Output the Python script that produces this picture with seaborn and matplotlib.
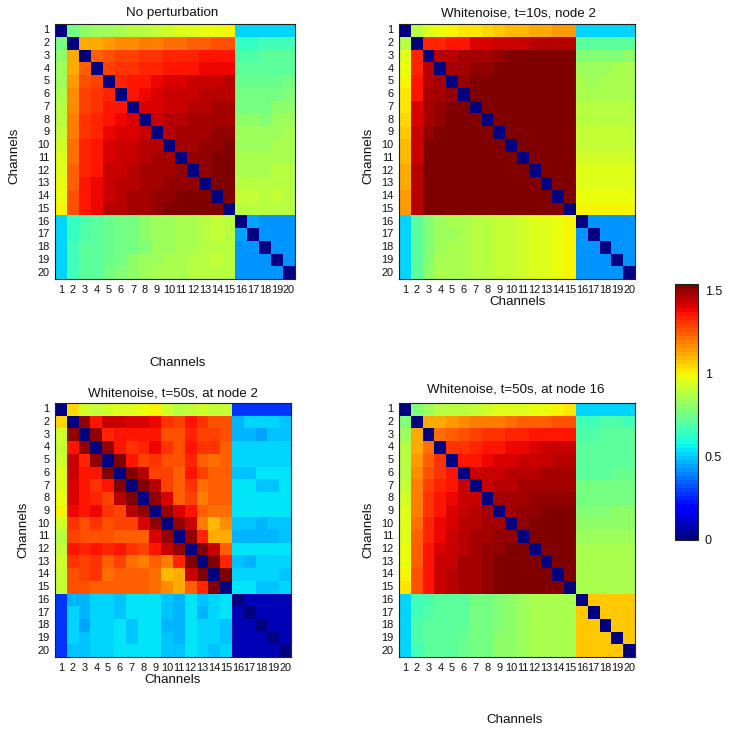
import numpy as np
import matplotlib
matplotlib.use("Agg")
import matplotlib.pyplot as plt
import seaborn as sns

sns.set_theme(style="white")
plt.rcParams['font.family'] = ['Liberation Sans', 'DejaVu Sans']

channels = [str(i) for i in range(1, 21)]

no_perturbation = [
 [.76,.80,.82,.84,.86,.88,.89,.91,.93,.95,.96,.97,.98,.99,.51,.51,.51,.51,.51],
 [1.12,1.13,1.15,1.16,1.17,1.19,1.20,1.21,1.22,1.23,1.24,1.26,1.27,.64,.64,.65,.66,.66],
 [1.25,1.26,1.28,1.29,1.31,1.32,1.33,1.34,1.34,1.35,1.36,1.36,.68,.68,.70,.71,.71],
 [1.29,1.31,1.32,1.33,1.34,1.35,1.36,1.37,1.38,1.38,1.38,.70,.70,.70,.71,.71],
 [1.34,1.36,1.37,1.39,1.40,1.41,1.42,1.43,1.44,1.45,.74,.74,.74,.74,.75],
 [1.37,1.39,1.40,1.42,1.43,1.44,1.45,1.46,1.46,.75,.75,.75,.76,.77],
 [1.40,1.41,1.43,1.44,1.45,1.46,1.47,1.47,.76,.76,.76,.80,.80],
 [1.44,1.45,1.46,1.47,1.48,1.48,1.49,.80,.80,.78,.82,.82],
 [1.46,1.47,1.48,1.49,1.50,1.51,.82,.82,.82,.84,.85],
 [1.48,1.49,1.50,1.51,1.52,.83,.83,.83,.85,.86],
 [1.50,1.51,1.52,1.53,.85,.85,.85,.86,.86],
 [1.51,1.52,1.53,.86,.86,.86,.87,.87],
 [1.52,1.53,.87,.87,.88,.88,.88],
 [1.53,.90,.90,.88,.90,.88],
 [.89,.88,.89,.89,.89],
 [.45,.41,.43,.43],
 [.43,.43,.43],
 [.43,.43],
 [.43],
]

noise_t10_node2 = [
 [.87,.95,.98,1.00,1.02,1.03,1.05,1.07,1.09,1.10,1.12,1.13,1.14,1.15,.51,.51,.51,.51,.51],
 [1.33,1.34,1.35,1.37,1.40,1.41,1.42,1.43,1.44,1.45,1.46,1.46,1.46,.70,.70,.70,.70,.72],
 [1.46,1.46,1.47,1.47,1.49,1.51,1.53,1.53,1.53,1.53,1.53,1.53,.77,.77,.78,.78,.80],
 [1.49,1.49,1.50,1.51,1.53,1.53,1.53,1.53,1.53,1.53,1.53,.84,.82,.84,.85,.85],
 [1.50,1.52,1.53,1.53,1.53,1.53,1.53,1.53,1.53,1.53,.85,.84,.85,.85,.85],
 [1.53,1.53,1.53,1.53,1.53,1.53,1.53,1.53,1.53,.86,.85,.86,.86,.86],
 [1.53,1.53,1.53,1.53,1.53,1.53,1.53,1.53,.88,.88,.88,.88,.88],
 [1.53,1.53,1.53,1.53,1.53,1.53,1.53,.89,.89,.89,.89,.89],
 [1.53,1.53,1.53,1.53,1.53,1.53,.90,.90,.90,.90,.90],
 [1.53,1.53,1.53,1.53,1.53,.91,.91,.91,.91,.91],
 [1.53,1.53,1.53,1.53,.92,.92,.92,.92,.92],
 [1.53,1.53,1.53,.94,.94,.94,.94,.94],
 [1.53,1.53,.96,.96,.96,.96,.96],
 [1.53,.98,.98,.98,.98,.98],
 [1.00,1.00,1.00,1.00,1.00],
 [.43,.43,.43,.43],
 [.43,.43,.43],
 [.43,.43],
 [.43],
]

noise_t50_node2 = [
 [1.05,.92,.91,.93,.95,.96,.98,1.00,.93,.87,.90,.92,.90,.90,.27,.27,.27,.27,.27],
 [1.50,1.37,1.42,1.44,1.41,1.41,1.39,1.31,1.29,1.36,1.31,1.27,1.27,.48,.51,.51,.51,.50],
 [1.50,1.34,1.35,1.35,1.35,1.37,1.26,1.27,1.33,1.29,1.28,1.27,.48,.48,.44,.49,.49],
 [1.50,1.37,1.31,1.34,1.38,1.30,1.27,1.35,1.30,1.30,1.24,.51,.51,.51,.51,.51],
 [1.52,1.37,1.29,1.31,1.26,1.27,1.33,1.25,1.22,1.24,.51,.51,.51,.51,.51],
 [1.53,1.46,1.29,1.29,1.23,1.36,1.28,1.24,1.24,.50,.50,.54,.54,.53],
 [1.52,1.46,1.28,1.25,1.32,1.22,1.24,1.25,.53,.53,.50,.50,.53],
 [1.51,1.41,1.24,1.28,1.19,1.24,1.25,.54,.54,.53,.53,.54],
 [1.51,1.40,1.35,1.23,1.22,1.22,.54,.54,.54,.54,.54],
 [1.50,1.43,1.20,1.10,1.17,.50,.49,.46,.49,.50],
 [1.50,1.33,1.13,1.11,.47,.47,.47,.47,.49],
 [1.52,1.44,1.24,.54,.54,.54,.54,.54],
 [1.52,1.34,.50,.47,.51,.51,.51],
 [1.52,.51,.51,.52,.52,.49],
 [.53,.53,.50,.50,.51],
 [.08,.08,.08,.08],
 [.08,.08,.08],
 [.08,.08],
 [.08],
]

noise_t50_node16 = [
 [.78,.84,.87,.87,.89,.90,.92,.94,.96,.96,.97,.98,1.00,1.03,.52,.52,.52,.52,.52],
 [1.12,1.13,1.14,1.16,1.18,1.19,1.20,1.22,1.23,1.25,1.25,1.26,1.27,.67,.67,.69,.69,.67],
 [1.22,1.24,1.26,1.28,1.30,1.32,1.33,1.34,1.35,1.36,1.37,1.37,.68,.69,.70,.70,.70],
 [1.30,1.32,1.34,1.36,1.37,1.38,1.39,1.40,1.42,1.42,1.43,.70,.70,.70,.71,.71],
 [1.35,1.37,1.39,1.40,1.41,1.42,1.43,1.44,1.45,1.45,.71,.71,.72,.71,.71],
 [1.43,1.43,1.44,1.45,1.45,1.46,1.47,1.47,1.47,.71,.71,.71,.73,.73],
 [1.44,1.45,1.46,1.47,1.48,1.48,1.49,1.49,.75,.75,.75,.75,.75],
 [1.47,1.48,1.49,1.50,1.50,1.51,1.51,.76,.76,.76,.76,.76],
 [1.49,1.50,1.51,1.52,1.52,1.53,.78,.78,.78,.80,.80],
 [1.51,1.52,1.53,1.53,1.53,.80,.80,.80,.81,.81],
 [1.52,1.53,1.53,1.53,.84,.84,.84,.84,.84],
 [1.53,1.53,1.53,.85,.85,.85,.85,.85],
 [1.52,1.52,.86,.86,.86,.86,.86],
 [1.52,.86,.86,.86,.86,.86],
 [.86,.86,.86,.86,.86],
 [1.06,1.06,1.06,1.06],
 [1.06,1.06,1.06],
 [1.06,1.06],
 [1.06],
]

panel_titles = ["No perturbation", "Whitenoise, t=10s, node 2",
                "Whitenoise, t=50s, at node 2", "Whitenoise, t=50s, at node 16"]
panel_data = [no_perturbation, noise_t10_node2, noise_t50_node2, noise_t50_node16]
cbar_ticks = [0, 0.5, 1, 1.5]
VMAX = 1.54

W, H = 729, 731
FS = 9.6
TICK_FS = 7.9
fig = plt.figure(figsize=(W / 100, H / 100), dpi=100)


def px_axes(x0, y0, x1, y1):
    return fig.add_axes([x0 / W, 1 - y1 / H, (x1 - x0) / W, (y1 - y0) / H])


def px_text(x, y, s, **kw):
    fig.text(x / W, 1 - y / H, s, ha='center', va='center', fontsize=FS,
             color='#111111', **kw)


def full_matrix(upper):
    m = np.zeros((20, 20))
    for i, row in enumerate(upper):
        m[i, i + 1:] = row
        m[i + 1:, i] = row
    return m


boxes = [(55, 24, 295, 279), (399, 24, 635, 279), (55, 403, 291, 657), (399, 403, 635, 657)]
title_xy = [(172, 13), (518, 14), (173, 393), (516, 390)]
xlabel_xy = [(178, 363), (518, 302), (173, 680), (515, 720)]
ylabel_xy = [(14, 156), (368, 156), (23, 530), (368, 530)]

cax = px_axes(675, 284, 698, 540)
cmap = plt.get_cmap('jet', 64)

cb = None
for k in range(4):
    ax = px_axes(*boxes[k])
    sns.heatmap(full_matrix(panel_data[k]), ax=ax, cmap=cmap, vmin=0, vmax=VMAX, square=False,
                xticklabels=channels, yticklabels=channels,
                cbar=(k == 3), cbar_ax=cax if k == 3 else None)
    for s in ax.spines.values():
        s.set_visible(True)
        s.set_color('#222222')
        s.set_linewidth(0.8)
    ax.tick_params(axis='both', which='both', direction='in', length=2.5, width=0.8,
                   color='#222222', top=True, right=True, bottom=True, left=True,
                   labelsize=TICK_FS, labelcolor='#111111', pad=4)
    ax.tick_params(axis='y', labelrotation=0)
    ax.tick_params(axis='x', labelrotation=0)
    px_text(*title_xy[k], panel_titles[k])
    px_text(*xlabel_xy[k], "Channels")
    px_text(*ylabel_xy[k], "Channels", rotation=90)
    if k == 3:
        cb = ax.collections[0].colorbar

cb.set_ticks(cbar_ticks)
cb.set_ticklabels(['0', '0.5', '1', '1.5'])
cb.outline.set_visible(True)
cb.outline.set_edgecolor('#222222')
cb.outline.set_linewidth(0.8)
cax.tick_params(axis='y', direction='in', length=2.5, width=0.6, color='#222222',
                left=True, right=True, labelsize=9, labelcolor='#111111', pad=5)

fig.savefig("out.png", dpi=100, facecolor='white')
